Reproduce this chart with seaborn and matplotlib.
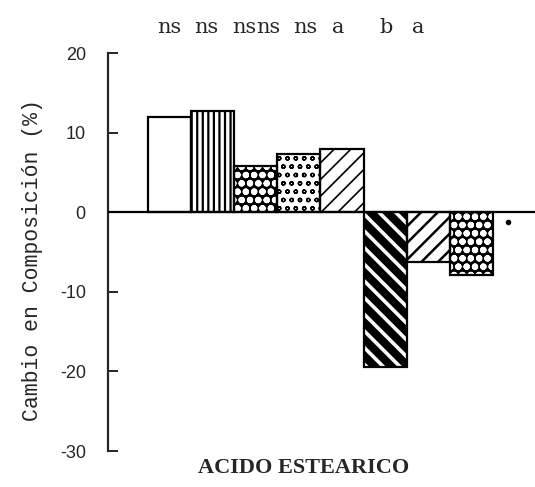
import matplotlib
matplotlib.use("Agg")
import matplotlib.pyplot as plt
import seaborn as sns
import pandas as pd

# ---- data ----
categories = ["T1", "T2", "T3", "T4", "T5", "T6", "T7", "T8"]
values = [12.0, 12.75, 5.75, 7.25, 8.0, -19.5, -6.25, -7.9]
signif = ["ns", "ns", "ns", "ns", "ns", "a", "b", "a"]
yticks = [20, 10, 0, -10, -20, -30]
stray_x = [7.85]
stray_y = [-1.25]

# ---- styles / layout ----
faces = ["white", "white", "black", "white", "white", "black", "white", "black"]
hatches = ["", "|||", "oo", "oo", "//", "\\\\", "//", "oo"]
hatch_cols = ["black", "black", "white", "black", "black", "white", "black", "white"]
hatch_lws = [1.0, 1.6, 2.2, 1.0, 1.2, 2.6, 1.8, 2.2]
sig_pos = [0.0, 0.86, 1.74, 2.30, 3.14, 3.91, 5.02, 5.77]

sns.set_style("ticks")
plt.rcParams["hatch.linewidth"] = 1.5
plt.rcParams["ytick.direction"] = "in"

df = pd.DataFrame({"cat": categories, "val": values})

fig = plt.figure(figsize=(5.35, 4.87), dpi=100)
ax = fig.add_axes([108 / 535, 36 / 487, 427 / 535, 398 / 487])

sns.barplot(data=df, x="cat", y="val", width=1.0, color="white",
            linewidth=0, errorbar=None, ax=ax, zorder=2)
for p, fc, h, hc, hl in zip(ax.patches, faces, hatches, hatch_cols, hatch_lws):
    p.set_facecolor(fc)
    p.set_edgecolor(hc)
    p.set_hatch(h)
    p.set_linewidth(0)
    if hasattr(p, "set_hatch_linewidth"):
        p.set_hatch_linewidth(hl)

sns.barplot(data=df, x="cat", y="val", width=1.0, fill=False, color="black",
            linewidth=1.6, errorbar=None, ax=ax, zorder=3)

ax.axhline(0, color="black", lw=1.6, zorder=4)
ax.plot(stray_x, stray_y, "o", color="black", ms=3)

ax.set_ylim(-30, 20)
ax.set_xlim(-1.43, 8.48)
ax.set_yticks(yticks)
ax.set_yticklabels([str(t) for t in yticks], fontsize=13, family="Liberation Sans")
ax.yaxis.set_tick_params(which="major", direction="in", length=7, width=1.4,
                         pad=16, left=True)
ax.set_xticks([])
for s in ["top", "right", "bottom"]:
    ax.spines[s].set_visible(False)
ax.spines["left"].set_linewidth(1.6)

ax.set_ylabel("Cambio en Composición (%)", family="Liberation Mono",
              fontsize=15.5, labelpad=12)
ax.yaxis.label.set_y(0.48)
ax.set_xlabel("ACIDO ESTEARICO", family="Liberation Serif",
              fontweight="bold", fontsize=16, labelpad=5)
ax.xaxis.label.set_x(0.459)

for xp, s in zip(sig_pos, signif):
    ax.text(xp, 1.063, s, transform=ax.get_xaxis_transform(), ha="center",
            va="center", family="DejaVu Serif", fontsize=15)

fig.savefig("out.png", dpi=100)
